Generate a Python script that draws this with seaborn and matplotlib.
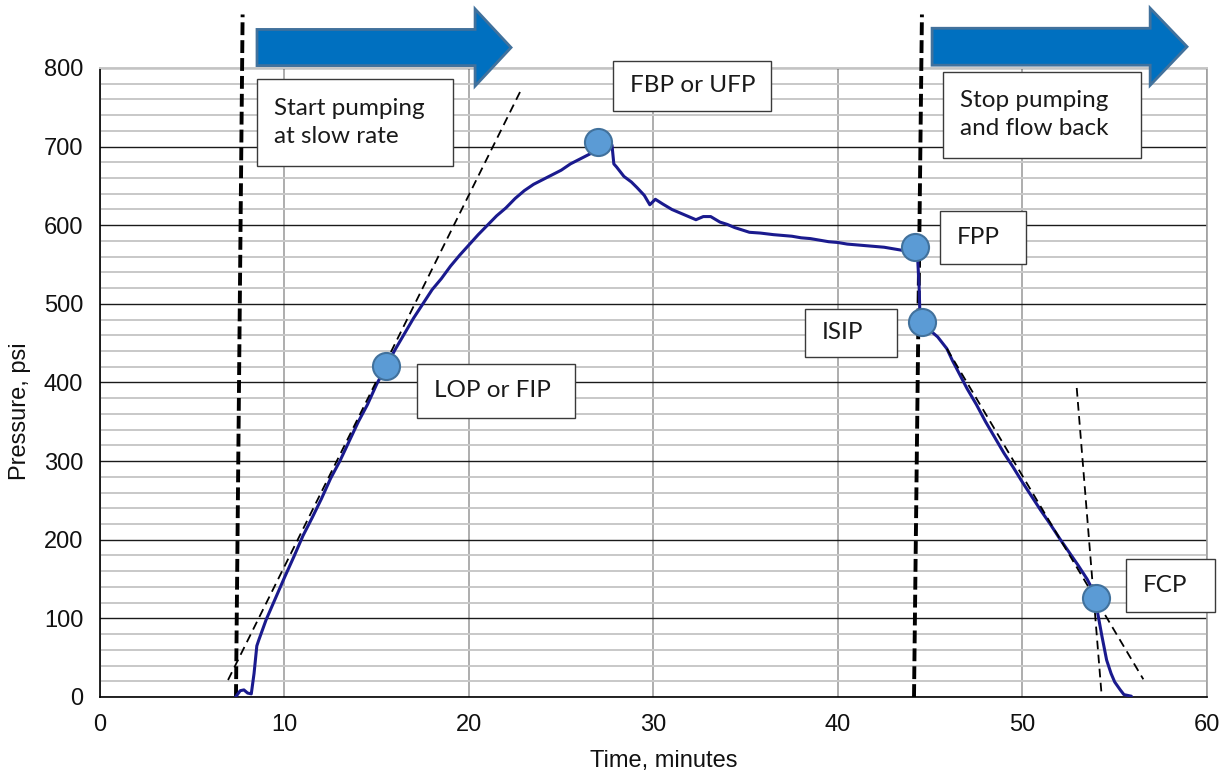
import matplotlib
matplotlib.use("Agg")
import matplotlib.pyplot as plt
from matplotlib.patches import Rectangle, FancyArrow
import seaborn as sns
import pandas as pd

# ---------------- data ----------------
time_min = [7.35, 7.6, 7.8, 8.0, 8.2, 8.35, 8.5, 8.6, 9.0, 9.5, 10.0, 10.5, 11.0, 11.5,
            12.0, 12.5, 13.0, 13.5, 14.0, 14.5, 15.0, 15.5, 16.0, 16.5, 17.0, 17.5,
            18.0, 18.5, 19.0, 19.5, 20.0, 20.5, 21.0, 21.5, 22.0, 22.5, 23.0, 23.5,
            24.0, 24.5, 25.0, 25.5, 26.0, 26.5, 27.0, 27.5, 27.75, 27.85, 28.0, 28.4,
            28.8, 29.1, 29.5, 29.8, 30.1, 30.5, 31.0, 31.4, 31.8, 32.3, 32.7, 33.1,
            33.6, 34.0, 34.4, 34.8, 35.2, 35.8, 36.5, 37.0, 37.5, 38.0, 38.5, 39.0,
            39.5, 40.0, 40.5, 41.0, 41.5, 42.0, 42.5, 43.0, 43.5, 44.0, 44.3, 44.4,
            44.45, 44.6, 45.0, 45.4, 45.9, 46.2, 46.6, 47.0, 47.5, 48.0, 48.5, 49.0,
            49.5, 50.0, 50.5, 51.0, 51.5, 52.0, 52.5, 53.0, 53.5, 53.9, 54.05, 54.3,
            54.56, 54.8, 55.0, 55.3, 55.5, 55.9]
pressure_psi = [0, 8, 9, 5, 4, 30, 65, 72, 98, 125, 152, 178, 205, 228,
                252, 278, 300, 325, 350, 372, 398, 420, 442, 462, 482, 500,
                518, 532, 548, 562, 575, 588, 600, 612, 622, 634, 644, 652,
                658, 664, 670, 678, 684, 690, 696, 702, 702, 678, 674, 662,
                655, 648, 638, 626, 633, 627, 620, 616, 612, 607, 611, 611,
                604, 601, 597, 594, 591, 590, 588, 587, 586, 584, 583, 581,
                579, 578, 576, 575, 574, 573, 572, 570, 568, 567, 566, 520,
                478, 472, 466, 458, 443, 428, 410, 392, 372, 350, 330, 310,
                292, 273, 255, 237, 220, 202, 185, 168, 150, 132, 110, 78,
                47, 30, 19, 9, 3, 1]

event_names = ["LOP or FIP", "FBP or UFP", "FPP", "ISIP", "FCP"]
event_time = [15.5, 27.0, 44.2, 44.55, 54.0]
event_pressure = [421, 706, 572, 477, 126]

# guide lines (start/end points)
pump_start_x = [7.37, 7.73]
pump_stop_x = [44.12, 44.55]
marker_line_y = [0, 868]
tangent_up_x = [6.94, 22.82]
tangent_up_y = [21.6, 772]
tangent_fall_x = [45.9, 56.55]
tangent_fall_y = [443, 22.5]
tangent_close_x = [52.94, 54.29]
tangent_close_y = [393, 2]

x_ticks = [0, 10, 20, 30, 40, 50, 60]
y_ticks = [0, 100, 200, 300, 400, 500, 600, 700, 800]

# annotation boxes: label, x0, x1, y0, y1 (layout)
boxes = [
    ("Start pumping\nat slow rate", 8.51, 19.13, 675.6, 786.3),
    ("FBP or UFP", 27.8, 36.37, 745.5, 809.2),
    ("Stop pumping\nand flow back", 45.69, 56.42, 685.8, 795.2),
    ("FPP", 45.53, 50.19, 550.9, 618.3),
    ("ISIP", 38.21, 43.2, 432.6, 493.6),
    ("LOP or FIP", 17.18, 25.75, 355.0, 423.7),
    ("FCP", 55.61, 60.43, 108.0, 175.6),
]

# ---------------- style ----------------
sns.set_theme(style="white")
plt.rcParams["font.family"] = ["Liberation Sans", "DejaVu Sans"]

fig = plt.figure(figsize=(12.24, 7.74), dpi=100)
ax = fig.add_axes([0.0817, 0.0995, 0.9044, 0.8127])

curve = pd.DataFrame({"t": time_min, "p": pressure_psi})
events = pd.DataFrame({"t": event_time, "p": event_pressure, "name": event_names})

# grid
ax.set_xlim(0, 60)
ax.set_ylim(0, 800)
ax.set_xticks(x_ticks)
ax.set_yticks(y_ticks)
ax.set_yticks(range(0, 801, 20), minor=True)
ax.grid(False)
ax.yaxis.grid(True, which="minor", color="#c8c8c8", lw=1.4, zorder=0)
ax.yaxis.grid(True, which="major", color="#1a1a1a", lw=1.0, zorder=0.5)
ax.xaxis.grid(True, which="major", color="#a0a0a0", lw=1.2, zorder=0)
ax.set_axisbelow(True)

# pumping start / stop markers (thick dashed)
dash_kw = dict(color="black", lw=2.8, dashes=(3.3, 1.3), clip_on=False, zorder=3)
ax.plot(pump_start_x, marker_line_y, **dash_kw)
ax.plot(pump_stop_x, marker_line_y, **dash_kw)

# pressure curve
sns.lineplot(data=curve, x="t", y="p", ax=ax, color="#1a1a8e", lw=2.2,
             sort=False, estimator=None, zorder=4)

# tangent lines (thin dashed)
thin_kw = dict(color="black", lw=1.3, dashes=(4.8, 3.0), zorder=5, clip_on=False)
ax.plot(tangent_up_x, tangent_up_y, **thin_kw)
ax.plot(tangent_fall_x, tangent_fall_y, **thin_kw)
ax.plot(tangent_close_x, tangent_close_y, **thin_kw)

# event markers
sns.scatterplot(data=events, x="t", y="p", ax=ax, s=380, color="#5B9BD5",
                edgecolor="#41719C", linewidth=1.5, zorder=6, clip_on=False)

# annotation boxes
for label, x0, x1, y0, y1 in boxes:
    ax.add_patch(Rectangle((x0, y0), x1 - x0, y1 - y0, facecolor="white",
                           edgecolor="#3a3a3a", lw=1.0, zorder=7, clip_on=False))
    ax.text(x0 + 0.9, (y0 + y1) / 2, label, ha="left", va="center",
            family=["Lato", "DejaVu Sans"], fontsize=17.5, color="#1a1a1a",
            linespacing=1.4, zorder=8, clip_on=False)

# block arrows above the plot
arrow_kw = dict(length_includes_head=True, facecolor="#0070C0", edgecolor="#41719C",
                lw=2.0, zorder=9, clip_on=False)
ax.add_patch(FancyArrow(8.51, 826, 13.77, 0, width=46, head_width=98,
                        head_length=1.95, **arrow_kw))
ax.add_patch(FancyArrow(45.1, 827, 13.82, 0, width=47, head_width=98,
                        head_length=2.0, **arrow_kw))

# axes cosmetics
for side in ["left", "bottom"]:
    ax.spines[side].set_color("black")
    ax.spines[side].set_linewidth(1.2)
ax.spines["top"].set_color("#c8c8c8")
ax.spines["top"].set_linewidth(1.4)
ax.spines["right"].set_color("#a0a0a0")
ax.spines["right"].set_linewidth(1.2)

ax.tick_params(axis="both", which="major", direction="inout", length=12, width=1.2,
               color="black", labelsize=17, labelcolor="#111111", pad=6)
ax.tick_params(axis="both", which="minor", length=0)

ax.set_xlabel("Time, minutes", fontsize=17, color="#111111")
ax.set_ylabel("Pressure, psi", fontsize=17, color="#111111")
ax.xaxis.set_label_coords(0.5095, -0.084)
ax.yaxis.set_label_coords(-0.062, 0.455)

fig.savefig("out.png", dpi=100)
